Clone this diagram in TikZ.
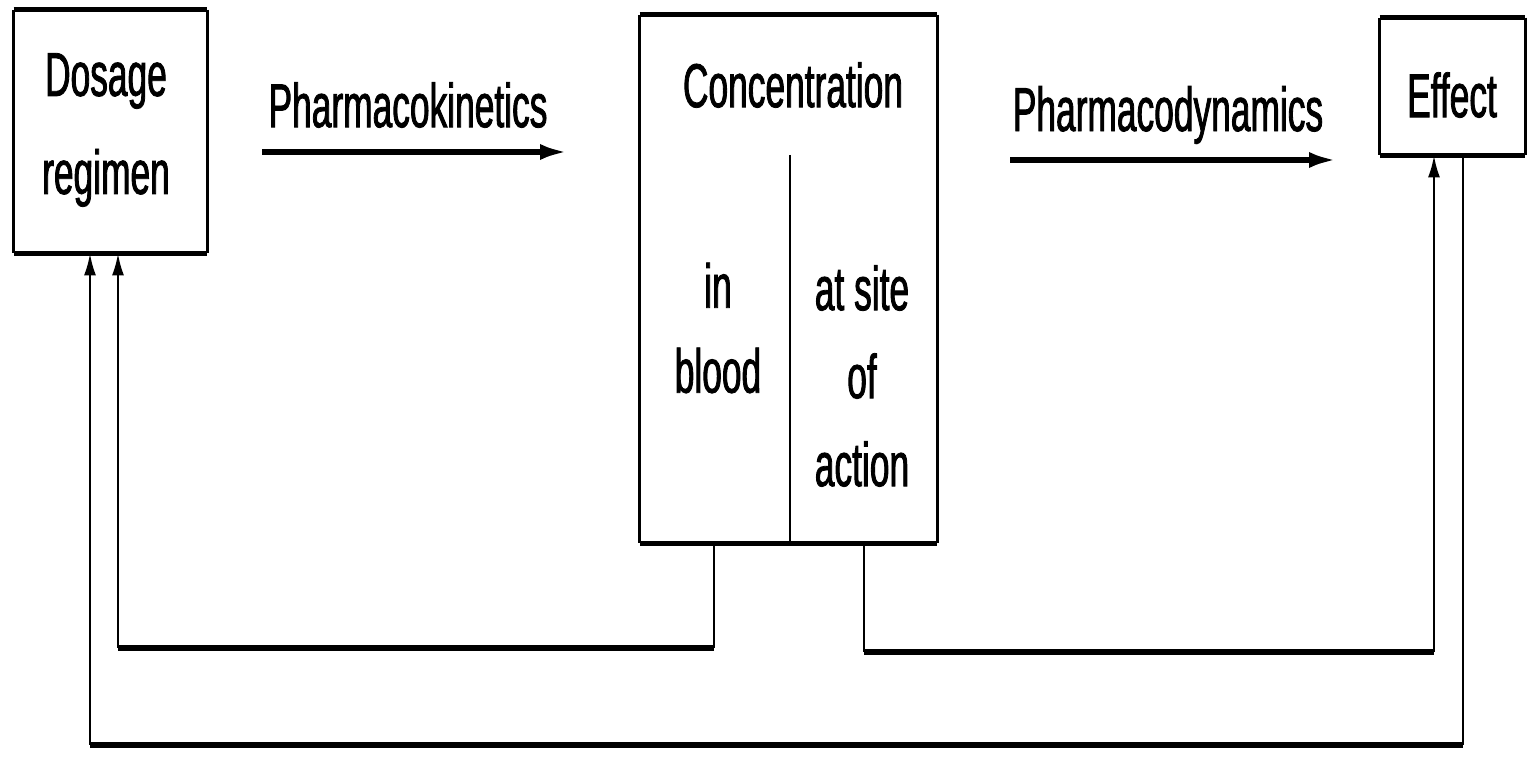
\documentclass[tikz,border=0pt]{standalone}
\usepackage{fontspec}
\setmainfont{Liberation Sans}[FakeStretch=0.57,FakeBold=1.3]
\usetikzlibrary{arrows.meta,calc}
\begin{document}
\begin{tikzpicture}[x=0.5pt,y=-0.5pt,
  lab/.style={font=\fontsize{31}{45}\selectfont, inner sep=0pt, align=center, text=black},
  boxnode/.style={draw=none, inner sep=0pt},
  hline/.style={line width=2.8pt, black},
  vline/.style={line width=1.2pt, black},
  sidel/.style={line width=1.5pt, black},
  uptip/.style={-{Latex[length=11pt,width=6pt]}},
  bigtip/.style={-{Latex[length=14pt,width=8pt]}}]
\useasboundingbox (0,0) rectangle (1528,764);

% boxes
\node[boxnode, minimum width=96.5pt, minimum height=121.5pt] (dose) at (110.5,131.5) {};
\node[boxnode, minimum width=148.5pt, minimum height=264pt] (conc) at (788.5,279) {};
\node[boxnode, minimum width=72.5pt, minimum height=68.5pt] (eff) at (1452.5,86.5) {};
\foreach \b in {dose,conc,eff}{
  \draw[sidel] (\b.north west) -- (\b.south west);
  \draw[sidel] (\b.north east) -- (\b.south east);
  \draw[hline] (\b.north west) -- (\b.north east);
  \draw[hline] (\b.south west) -- (\b.south east);
}

% texts
\node[lab, font=\fontsize{31}{49}\selectfont] (dosetxt) at (106,130) {Dosage\\regimen};
\node[lab] (conctxt) at (793,85) {Concentration};
\node[lab] (efftxt) at (1452,95) {Effect};
\node[lab, font=\fontsize{31}{42.5}\selectfont] (blood) at (718,328) {in\\blood};
\node[lab, font=\fontsize{31}{44}\selectfont] (site) at (862,376) {at site\\of\\action};
\node[lab] (pk) at (408,105) {Pharmacokinetics};
\node[lab] (pd) at (1168,115) {Pharmacodynamics};

% divider inside concentration box
\coordinate (divtop) at (790,155);
\draw[vline] (divtop) -- (divtop |- conc.south);

% forward arrows
\coordinate (pk1) at (262,152);
\coordinate (pk2) at (568,152);
\draw[hline, bigtip] (pk1) -- (pk2);
\coordinate (pd1) at (1010,160);
\coordinate (pd2) at (1337,160);
\draw[hline, bigtip] (pd1) -- (pd2);

% feedback: blood -> dosage
\coordinate (b1) at (714,648);
\coordinate (b2) at (118,648);
\draw[vline] (conc.south -| b1) -- (b1);
\draw[hline] (b1) -- (b2);
\draw[vline, uptip] (b2) -- (b2 |- dose.south);

% site of action -> effect
\coordinate (s1) at (864,652);
\coordinate (s2) at (1434,652);
\draw[vline] (conc.south -| s1) -- (s1);
\draw[hline] (s1) -- (s2);
\draw[vline, uptip] (s2) -- (s2 |- eff.south);

% effect -> dosage
\coordinate (e1) at (1463,745);
\coordinate (e2) at (90,745);
\draw[vline] (eff.south -| e1) -- (e1);
\draw[hline] (e1) -- (e2);
\draw[vline, uptip] (e2) -- (e2 |- dose.south);
\end{tikzpicture}
\end{document}
